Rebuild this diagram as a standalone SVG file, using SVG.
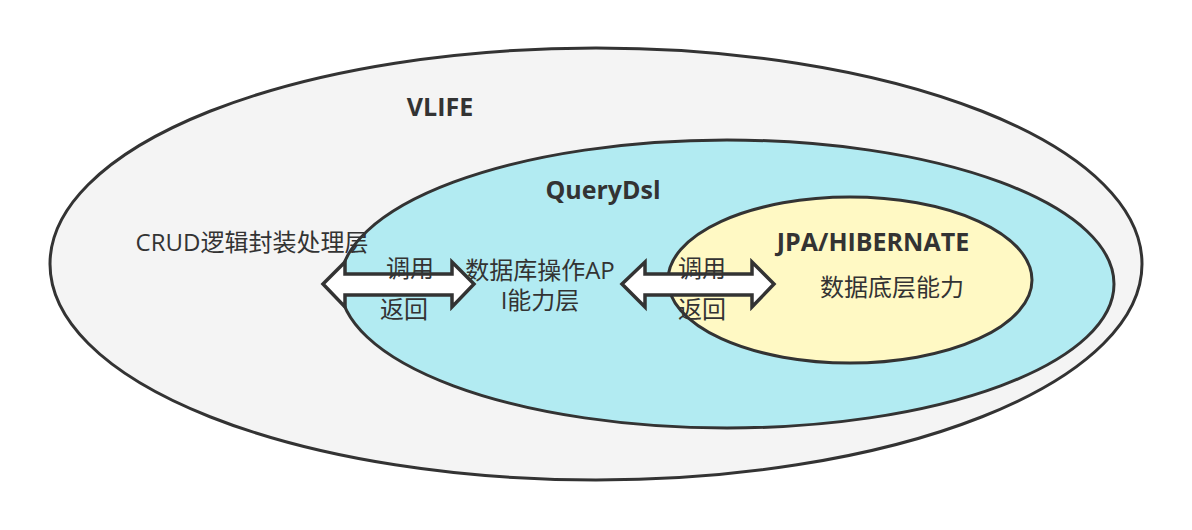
<svg xmlns="http://www.w3.org/2000/svg" width="1192" height="530" viewBox="0 0 1192 530">
<style>
.e{stroke:#333;stroke-width:3}
.t{font-family:"Open Sans","Noto Sans CJK SC",sans-serif;fill:#333;font-size:24px}
.b{font-weight:bold;font-size:25px}
.a{fill:#fff;stroke:#333;stroke-width:3.5;stroke-linejoin:miter}
</style>
<rect width="1192" height="530" fill="#fff"/>
<g id="vlife">
<ellipse class="e" cx="596" cy="264" rx="546" ry="216" fill="#f4f4f4"/>
<text class="t b" x="440" y="116" text-anchor="middle">VLIFE</text>
</g>
<g id="querydsl">
<ellipse class="e" cx="727" cy="284" rx="387" ry="144" fill="#b2ebf2"/>
<text class="t b" x="603" y="199" text-anchor="middle">QueryDsl</text>
<text class="t" x="540" y="279" text-anchor="middle">数据库操作AP</text>
<text class="t" x="540" y="309" text-anchor="middle">I能力层</text>
</g>
<g id="vlife-label">
<text class="t" x="252" y="251" text-anchor="middle">CRUD逻辑封装处理层</text>
</g>
<g id="jpa">
<ellipse class="e" cx="850" cy="280" rx="182" ry="83" fill="#fff9c4"/>
<text class="t b" x="873" y="251" text-anchor="middle">JPA/HIBERNATE</text>
<text class="t" x="892" y="296" text-anchor="middle">数据底层能力</text>
</g>
<g id="connectors">
<polygon class="a" points="323,284 345,262 345,274 452,274 452,262 474,284 452,307 452,295 345,295 345,307"/>
<polygon class="a" points="622,284 645,262 645,274 752,274 752,262 774,284 752,307 752,295 645,295 645,307"/>
<text class="t" x="410" y="277" text-anchor="middle">调用</text>
<text class="t" x="404" y="318" text-anchor="middle">返回</text>
<text class="t" x="702" y="277" text-anchor="middle">调用</text>
<text class="t" x="702" y="318" text-anchor="middle">返回</text>
</g>
</svg>
